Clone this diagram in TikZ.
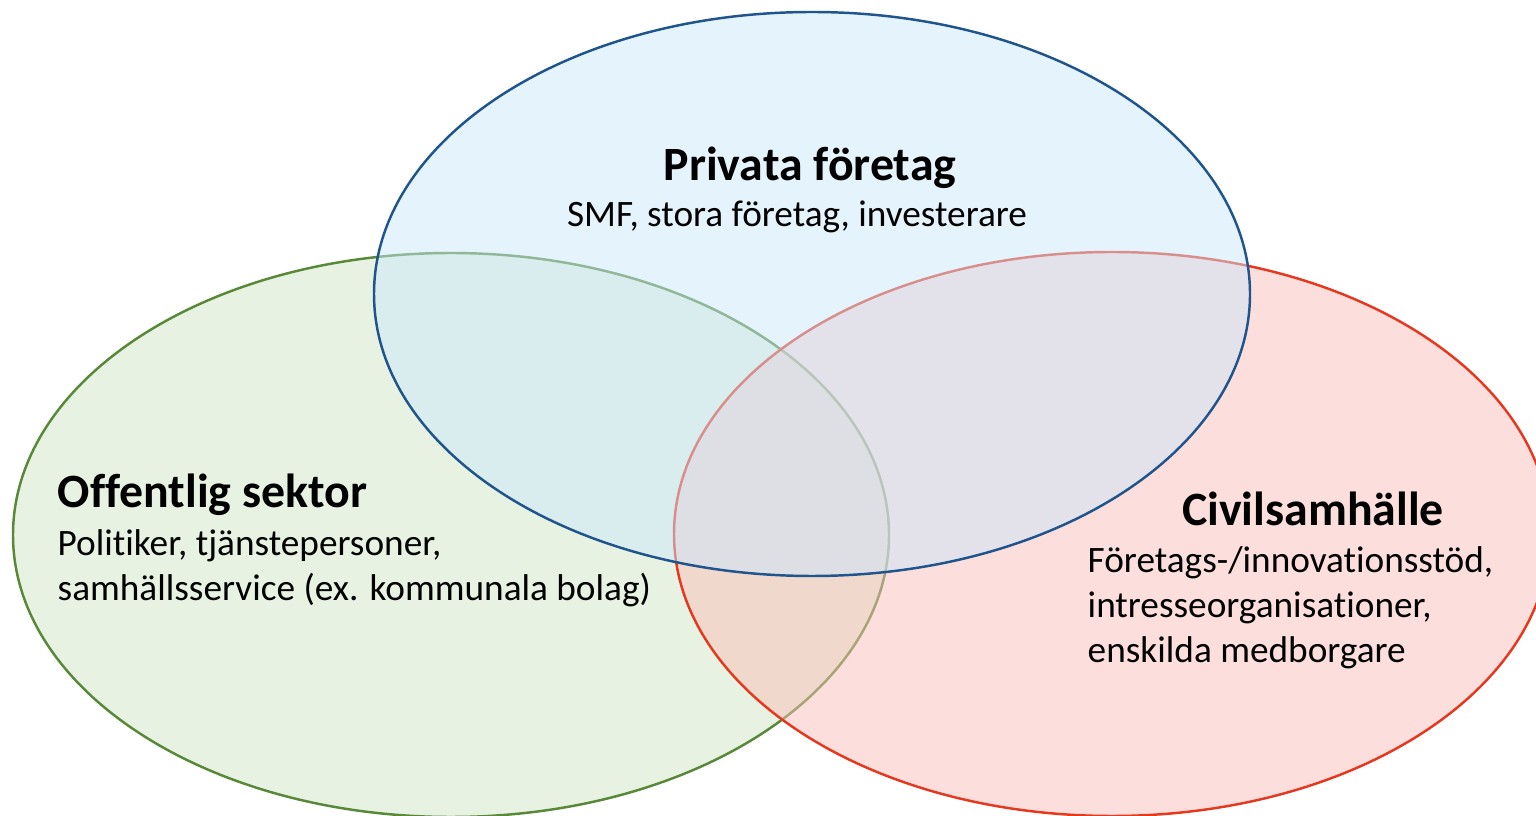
\documentclass[tikz,border=0pt]{standalone}
\usepackage{fontspec}
\setmainfont{Carlito}[Ligatures=NoCommon]
\definecolor{privfill}{RGB}{203,231,251}
\definecolor{privline}{RGB}{31,84,140}
\definecolor{offfill}{RGB}{209,229,197}
\definecolor{offline}{RGB}{88,136,56}
\definecolor{civfill}{RGB}{249,191,185}
\definecolor{civline}{RGB}{230,56,30}
\begin{document}
\begin{tikzpicture}[x=0.01cm, y=-0.01cm,
    set/.style={line width=0.7pt, fill opacity=0.5},
    head/.style={font=\fontsize{13.6}{16}\selectfont\bfseries, inner sep=0pt},
    body/.style={font=\fontsize{10.6}{12.8}\selectfont, inner sep=0pt, align=left}]
  \useasboundingbox (0,0) rectangle (1536,816);
  \clip (0,0) rectangle (1536,816);
  % the three sets
  \draw[set, draw=offline, fill=offfill] (451,535) ellipse [x radius=438, y radius=282];
  \draw[set, draw=civline, fill=civfill] (1112,534) ellipse [x radius=438, y radius=282];
  \draw[set, draw=privline, fill=privfill] (812,294) ellipse [x radius=438, y radius=282];
  % labels
  \node[head, anchor=base] (privhead) at (810,181) {Privata företag};
  \node[body, anchor=base] (privtext) at (797,227) {SMF, stora företag, investerare};
  \node[head, anchor=base west] (offhead) at (57,508) {Offentlig sektor};
  \node[body, anchor=north west] (offtext) at (57,529)
    {Politiker, tjänstepersoner,\\samhällsservice (ex. kommunala bolag)};
  \node[head, anchor=base] (civhead) at (1313,526) {Civilsamhälle};
  \node[body, anchor=north west] (civtext) at (1087,546)
    {Företags-/innovationsstöd,\\intresseorganisationer,\\enskilda medborgare};
\end{tikzpicture}
\end{document}
